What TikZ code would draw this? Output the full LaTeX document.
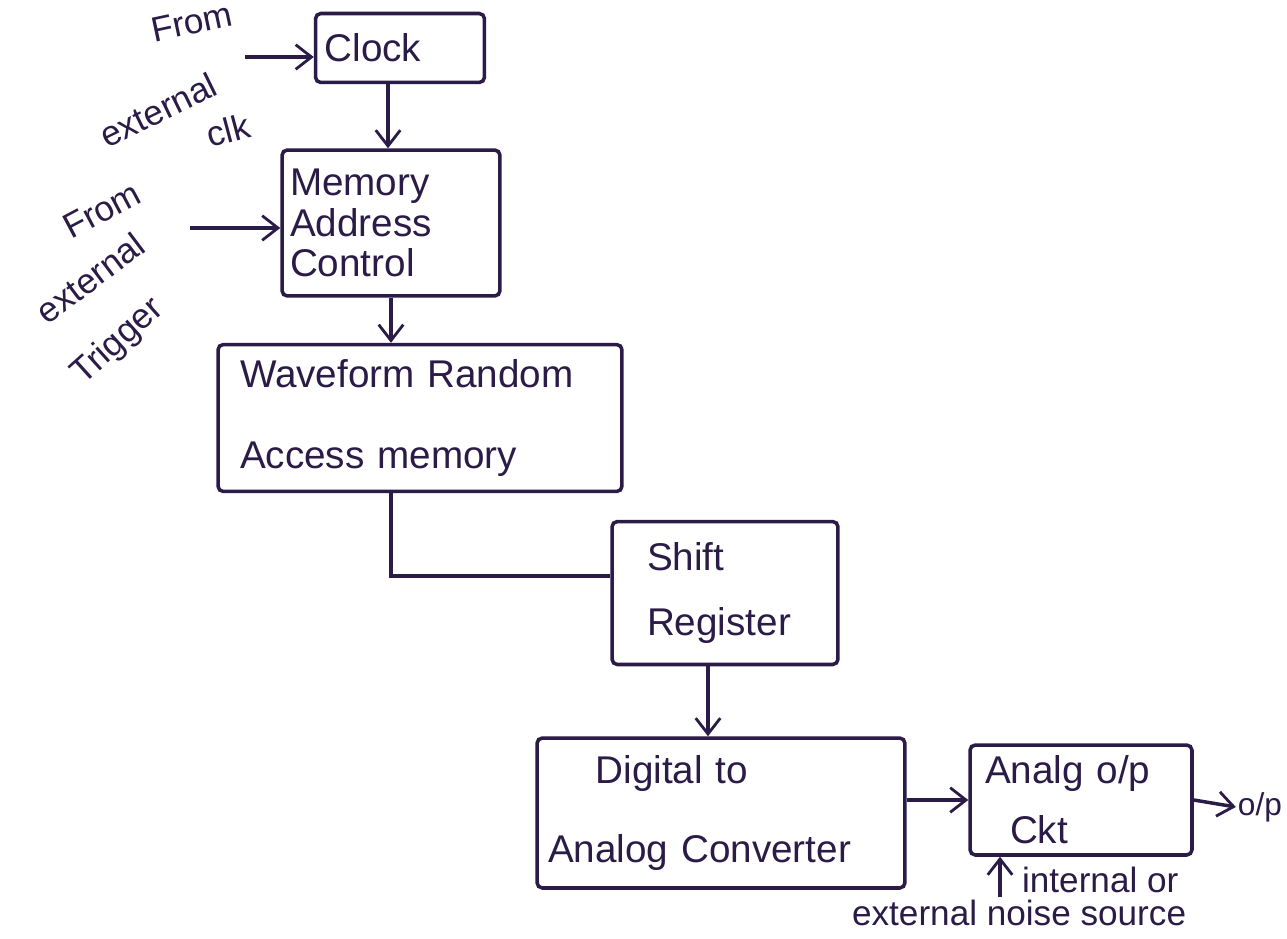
\documentclass[tikz,border=0pt]{standalone}
\usepackage{fontspec}
\setmainfont{Liberation Sans}
\usetikzlibrary{arrows.meta,calc}
\definecolor{ink}{HTML}{2B1B47}
\begin{document}
\begin{tikzpicture}[x=0.02cm,y=-0.02cm,
  every node/.style={text=ink},
  txt/.style={font=\fontsize{20}{22}\selectfont,inner sep=1pt},
  blk/.style={draw=ink,line width=2pt,rounded corners=3pt,align=left,
    font=\fontsize{22}{24}\selectfont,inner ysep=4pt},
  wire/.style={draw=ink,line width=2pt},
  arr/.style={wire,-{Straight Barb[length=9pt,width=14pt,line width=1.6pt]}}]
\fill[white] (0,0) rectangle (1287,939);
\useasboundingbox (0,0) rectangle (1287,939);

% blocks
\node[blk,inner xsep=0.18cm,text width=3.02cm,minimum height=1.38cm] (clock) at (400,48) {Clock};
\node[blk,inner xsep=0.16cm,text width=4.04cm,minimum height=2.92cm] (mac) at (391,223) {Memory\\[-1pt]Address\\[-1pt]Control};
\node[blk,inner xsep=0.44cm,text width=7.2cm,minimum height=2.94cm] (wram) at (420,418) {Waveform Random\\[22pt]Access memory};
\node[blk,inner xsep=0.7cm,text width=3.12cm,minimum height=2.86cm] (sr) at (725,593) {Shift\\[13pt]Register};
\node[blk,inner xsep=0.22cm,text width=6.92cm,minimum height=3.0cm] (dac) at (721,813) {\hspace{0.95cm}Digital to\\[21pt]Analog Converter};
\node[blk,inner xsep=0.3cm,text width=3.84cm,minimum height=2.2cm] (aoc) at (1081,800) {Analg o/p\\[10pt]\hspace{0.5cm}Ckt};

% side labels
\node[txt,rotate=12] (fr1) at (192,22) {From};
\node[txt,rotate=26] (ext1) at (158,110) {external};
\node[txt,rotate=15] (clk) at (228,130) {clk};
\node[txt,rotate=28] (fr2) at (102,210) {From};
\node[txt,rotate=37] (ext2) at (90,278) {external};
\node[txt,rotate=42] (trg) at (118,342) {Trigger};
\node[txt,anchor=east,font=\fontsize{18}{20}\selectfont] (op) at (1284,807) {o/p};
\node[txt,anchor=west] (noise1) at (1020,880) {internal or};
\node[txt,anchor=west] (noise2) at (850,913) {external noise source};
\coordinate (noisetail) at (1000,897);
\coordinate (clkin) at (245,57);
\coordinate (trgin) at (190,228);

% connectors
\draw[arr] (clkin) -- (clock.west |- clkin);
\draw[arr] (clock.south -| 388,0) -- (mac.north -| 388,0);
\draw[arr] (trgin) -- (mac.west |- trgin);
\draw[arr] (mac.south) -- (mac.south |- wram.north);
\draw[wire] (mac.south |- wram.south) -- (mac.south |- 0,576) -- (sr.west |- 0,576);
\draw[arr] ($(sr.south)+(-17,0)$) -- ($(sr.south |- dac.north)+(-17,0)$);
\draw[arr] (dac.east |- aoc.west) -- (aoc.west);
\draw[arr] (aoc.east) -- (op.west);
\draw[arr] (noisetail) -- (noisetail |- aoc.south);
\end{tikzpicture}
\end{document}
